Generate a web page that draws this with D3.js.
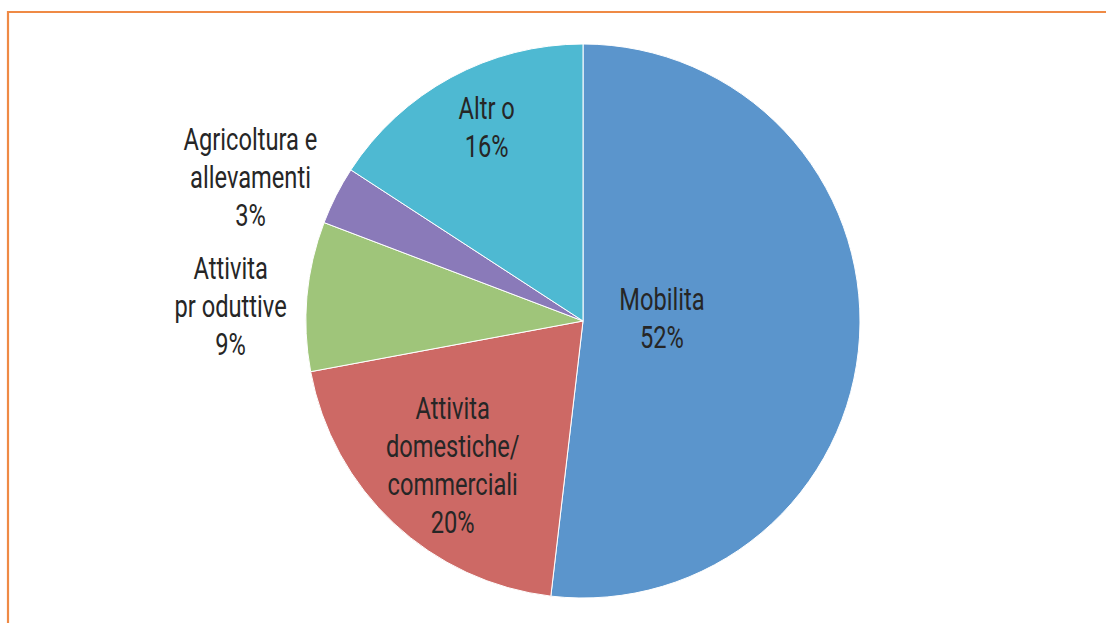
<!DOCTYPE html>
<html>
<head>
<meta charset="utf-8">
<script src="https://cdn.jsdelivr.net/npm/d3@7"></script>
<style>
  html, body { margin: 0; padding: 0; background: #fff; }
  svg { display: block; }
</style>
</head>
<body>
<div id="chart"></div>
<script>
// slices, clockwise from 12 o'clock
const categories = ["Mobilita", "Attivita domestiche/commerciali", "Attivita produttive", "Agricoltura e allevamenti", "Altro"];
const labelLines = [["Mobilita"], ["Attivita", "domestiche/", "commerciali"], ["Attivita", "pr oduttive"], ["Agricoltura e", "allevamenti"], ["Altr o"]];
const values = [51.8, 20.2, 8.7, 3.4, 15.8];
const colors = ["#5B95CC", "#CD6965", "#9FC57A", "#8A7AB9", "#4EB9D2"];

const width = 1106, height = 623;
const cx = 583, cy = 321, radius = 277;
// where each label sits: fraction of the radius, then a small nudge
const labelRadius = [0.26, 0.71, 1.27, 1.31, 0.79];
const labelNudge = [[7, -7], [4, 0], [-2, 16], [-9, 20], [8, -2]];
const lineHeight = 38;
// the original face is a condensed one; squeeze Roboto to get near it
const squeeze = 0.74;

const svg = d3.select('#chart').append('svg')
  .attr('width', width)
  .attr('height', height);

// orange frame, running off the right and bottom edges
svg.append('path')
  .attr('d', `M8,${height + 5} V12 H${width + 5}`)
  .attr('fill', 'none')
  .attr('stroke', '#EF8A45')
  .attr('stroke-width', 2.2);

const g = svg.append('g')
  .attr('transform', `translate(${cx},${cy})`);

const pie = d3.pie().sort(null).value(d => d);
const arcs = pie(values);

const arc = d3.arc().innerRadius(0).outerRadius(radius);

g.selectAll('path.slice')
  .data(arcs)
  .enter().append('path')
    .attr('class', 'slice')
    .attr('fill', (d, i) => colors[i])
    .attr('stroke', '#fff')
    .attr('stroke-width', 1)
    .attr('d', arc);

const labels = g.selectAll('text.label')
  .data(arcs)
  .enter().append('text')
    .attr('class', 'label')
    .attr('text-anchor', 'middle')
    .style('font-family', 'Roboto, "DejaVu Sans Condensed", sans-serif')
    .style('font-size', '32px')
    .attr('fill', '#262626')
    .attr('transform', (d, i) => {
      const a = (d.startAngle + d.endAngle) / 2;
      const r = radius * labelRadius[i];
      const x = Math.sin(a) * r + labelNudge[i][0];
      const y = -Math.cos(a) * r + labelNudge[i][1];
      return `translate(${x},${y}) scale(${squeeze},1)`;
    });

labels.each(function (d, i) {
  const lines = labelLines[i].concat([Math.round(values[i]) + '%']);
  const top = -(lines.length - 1) * lineHeight / 2;
  d3.select(this).selectAll('tspan')
    .data(lines)
    .enter().append('tspan')
      .attr('x', 0)
      .attr('y', (t, j) => top + j * lineHeight)
      .attr('dy', '0.35em')
      .text(t => t);
});
</script>
</body>
</html>
